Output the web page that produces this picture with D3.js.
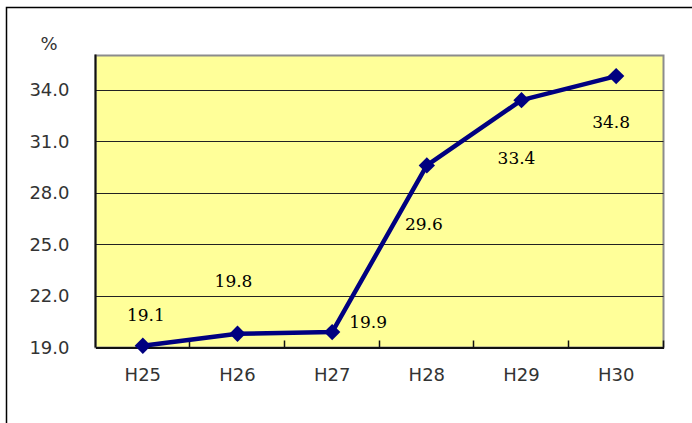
<!DOCTYPE html>
<html>
<head>
<meta charset="utf-8">
<script src="https://cdn.jsdelivr.net/npm/d3@7"></script>
<style>
	body { margin: 0; background: #fff; }
	svg { display: block; }
</style>
</head>
<body>
<svg width="692" height="423"></svg>
<script>
const categories = ['H25', 'H26', 'H27', 'H28', 'H29', 'H30'];
const values = [19.1, 19.8, 19.9, 29.6, 33.4, 34.8];
const yTicks = [19, 22, 25, 28, 31, 34];
const unitLabel = '%';

// hand placed label offsets (px) from each point, like the original
const labelOffsets = [[3, -25], [-4, -47], [36, -4], [-3, 65], [-5, 64], [-5, 52]];

const plotLeft = 95.5;
const plotRight = 663.5;
const plotTop = 55.5;
const plotBottom = 347.5;

const axisFont = 'DejaVu Sans, Verdana, sans-serif';

const xScale = d3.scaleBand()
	.domain(categories)
	.range([plotLeft, plotRight]);
const yScale = d3.scaleLinear()
	.domain([19, 36])
	.range([plotBottom, plotTop]);

const svg = d3.select('svg');

// outer frame (right and bottom edges fall outside the picture)
svg.append('rect')
	.attr('x', 6.5)
	.attr('y', 7.5)
	.attr('width', 720)
	.attr('height', 440)
	.attr('fill', 'none')
	.attr('stroke', '#000')
	.attr('stroke-width', 1.5);

svg.append('rect')
	.attr('x', plotLeft)
	.attr('y', plotTop)
	.attr('width', plotRight - plotLeft)
	.attr('height', plotBottom - plotTop)
	.attr('fill', '#ffff99')
	.attr('stroke', '#8c8c8c')
	.attr('stroke-width', 2);

svg.append('g')
	.selectAll('line')
	.data(yTicks.slice(1))
	.enter()
	.append('line')
	.attr('x1', plotLeft)
	.attr('x2', plotRight)
	.attr('y1', d => Math.round(yScale(d)) + 0.5)
	.attr('y2', d => Math.round(yScale(d)) + 0.5)
	.attr('stroke', '#222')
	.attr('stroke-width', 1);

const yAxis = d3.axisLeft(yScale)
	.tickValues(yTicks)
	.tickFormat(d3.format('.1f'))
	.tickSize(0)
	.tickPadding(26);

svg.append('g')
	.attr('id', 'y-axis')
	.attr('transform', 'translate(' + plotLeft + ',0)')
	.call(yAxis)
	.call(g => g.select('.domain').remove())
	.selectAll('text')
	.style('font-family', axisFont)
	.style('font-size', '18px')
	.attr('fill', '#333');

svg.append('line')
	.attr('x1', plotLeft)
	.attr('x2', plotLeft)
	.attr('y1', plotTop - 1)
	.attr('y2', plotBottom)
	.attr('stroke', '#111')
	.attr('stroke-width', 2);

// category boundary ticks, pointing into the plot
const boundaries = categories.slice(1).map(c => xScale(c)).concat([plotRight]);
svg.append('g')
	.selectAll('line')
	.data(boundaries)
	.enter()
	.append('line')
	.attr('x1', d => Math.round(d) - 0.5)
	.attr('x2', d => Math.round(d) - 0.5)
	.attr('y1', plotBottom)
	.attr('y2', plotBottom - 7)
	.attr('stroke', '#111')
	.attr('stroke-width', 1.5);

const xAxis = d3.axisBottom(xScale)
	.tickSize(0)
	.tickPadding(21);

svg.append('g')
	.attr('id', 'x-axis')
	.attr('transform', 'translate(0,' + plotBottom + ')')
	.call(xAxis)
	.call(g => g.select('.domain').attr('stroke', '#111').attr('stroke-width', 2))
	.selectAll('text')
	.style('font-family', axisFont)
	.style('font-size', '18px')
	.attr('fill', '#333');

svg.append('text')
	.text(unitLabel)
	.attr('x', 49)
	.attr('y', 50)
	.attr('text-anchor', 'middle')
	.style('font-family', axisFont)
	.style('font-size', '18px')
	.attr('fill', '#333');

const cx = i => xScale(categories[i]) + xScale.bandwidth() / 2;

const line = d3.line()
	.x((d, i) => cx(i))
	.y(d => yScale(d));

svg.append('path')
	.datum(values)
	.attr('d', line)
	.attr('fill', 'none')
	.attr('stroke', '#000080')
	.attr('stroke-width', 4.5)
	.attr('stroke-linejoin', 'round');

svg.append('g')
	.selectAll('path')
	.data(values)
	.enter()
	.append('path')
	.attr('d', d3.symbol().type(d3.symbolDiamond2).size(170))
	.attr('transform', (d, i) => 'translate(' + cx(i) + ',' + yScale(d) + ')')
	.attr('fill', '#000080');

svg.append('g')
	.selectAll('text')
	.data(values)
	.enter()
	.append('text')
	.text(d => d.toFixed(1))
	.attr('x', (d, i) => cx(i) + labelOffsets[i][0])
	.attr('y', (d, i) => yScale(d) + labelOffsets[i][1])
	.attr('text-anchor', 'middle')
	.style('font-family', 'DejaVu Serif, Georgia, serif')
	.style('font-size', '17px')
	.attr('fill', '#000');
</script>
</body>
</html>
